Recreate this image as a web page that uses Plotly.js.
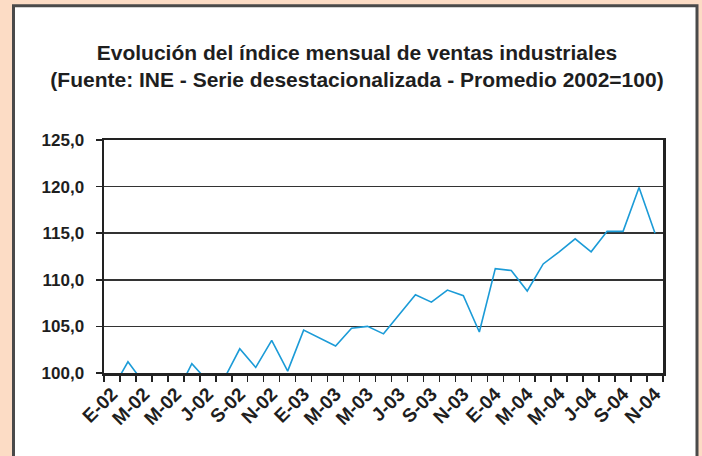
<!DOCTYPE html>
<html>
<head>
<meta charset="utf-8">
<script src="https://cdn.plot.ly/plotly-3.0.1.min.js"></script>
<style>html,body{margin:0;padding:0;background:#fcdcc5;}#chart{width:702px;height:456px;}</style>
</head>
<body>
<div id="chart"></div>
<script>
// Month labels (E-02 = enero 2002 ... N-04 = noviembre 2004)
const months = [
  "E-02","F-02","M-02","A-02","M-02","J-02","J-02","A-02","S-02","O-02","N-02","D-02",
  "E-03","F-03","M-03","A-03","M-03","J-03","J-03","A-03","S-03","O-03","N-03","D-03",
  "E-04","F-04","M-04","A-04","M-04","J-04","J-04","A-04","S-04","O-04","N-04"
];
// Índice mensual de ventas industriales (serie desestacionalizada, 2002=100)
const values = [
  98.2, 101.2, 98.9, 99.0, 97.6, 101.0, 99.1, 99.3, 102.6, 100.6, 103.5, 100.2,
  104.6, 103.75, 102.9, 104.8, 105.0, 104.2, 106.3, 108.4, 107.6, 108.9, 108.3, 104.4,
  111.2, 111.0, 108.8, 111.7, 113.0, 114.4, 113.0, 115.2, 115.2, 119.9, 115.0
];
const yTicks = [100, 105, 110, 115, 120, 125];
const titleText = "Evolución del índice mensual de ventas industriales<br>(Fuente: INE - Serie desestacionalizada - Promedio 2002=100)";

const xIdx = months.map((m, i) => i);
const labelIdx = xIdx.filter(i => i % 2 === 0);
const boundaries = [];
for (let i = 0; i <= months.length; i++) boundaries.push(i - 0.5);

// plot area in px
const L = 104, R = 663, T = 140, B = 373.5, W = 702, H = 456;
const pw = R - L, ph = B - T;
const px = v => (v - L) / pw;
const py = v => (B - v) / ph;

const trace = {
  x: xIdx,
  y: values,
  type: 'scatter',
  mode: 'lines',
  line: {color: '#1b9bd7', width: 1.6},
  hoverinfo: 'skip'
};

const font = 'Liberation Sans, Arial, sans-serif';
const layout = {
  width: W, height: H,
  margin: {l: L, r: W - R, t: T, b: H - B, pad: 0},
  paper_bgcolor: '#fcdcc5',
  plot_bgcolor: '#ffffff',
  separators: ',.',
  showlegend: false,
  title: {
    text: '<b>' + titleText + '</b>',
    font: {family: font, size: 21, color: '#1e1e1e'},
    xref: 'paper', x: (357 - L) / pw, xanchor: 'center',
    yref: 'container', y: 1 - 60 / H, yanchor: 'top'
  },
  xaxis: {
    range: [-0.5, months.length - 0.5],
    tickmode: 'array',
    tickvals: labelIdx,
    ticktext: labelIdx.map(i => '<b>' + months[i] + '</b>'),
    tickangle: -45,
    ticks: '',
    ticklabelstandoff: 0,
    tickfont: {family: font, size: 19, color: '#1e1e1e'},
    showgrid: false,
    zeroline: false,
    showline: true, linecolor: '#222', linewidth: 2.5, mirror: true,
    minor: {tickmode: 'array', tickvals: boundaries, ticks: 'outside', ticklen: 6, tickwidth: 1.5, tickcolor: '#222', showgrid: false},
    fixedrange: true
  },
  yaxis: {
    range: [100, 125],
    tickmode: 'array',
    tickvals: yTicks,
    ticktext: yTicks.map(v => '<b>' + v.toFixed(1).replace('.', ',') + '</b>'),
    ticks: 'outside', ticklen: 6, tickwidth: 1.5, tickcolor: '#222',
    ticklabelstandoff: 8,
    tickfont: {family: font, size: 17, color: '#1e1e1e'},
    showgrid: true, gridcolor: '#333', gridwidth: 1.5,
    zeroline: false,
    showline: true, linecolor: '#222', linewidth: 2.5, mirror: true,
    fixedrange: true
  },
  shapes: [{
    type: 'rect', xref: 'paper', yref: 'paper', layer: 'below',
    x0: px(13.5), x1: px(697), y0: py(475), y1: py(5.5),
    fillcolor: '#ffffff', line: {color: '#4a4a4a', width: 3}
  }]
};

Plotly.newPlot('chart', [trace], layout, {displayModeBar: false, staticPlot: true});
</script>
</body>
</html>
